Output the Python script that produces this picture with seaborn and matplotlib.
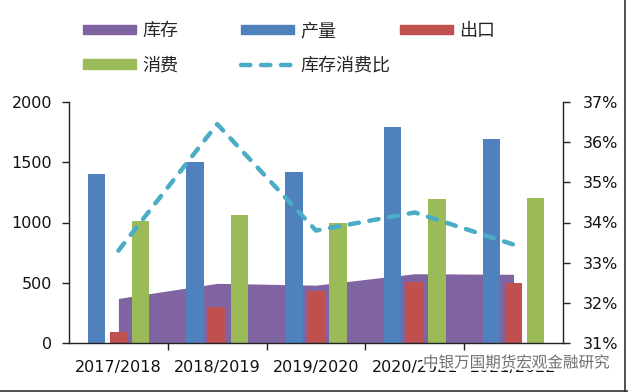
import matplotlib
matplotlib.use("Agg")
import matplotlib.pyplot as plt
import matplotlib.patheffects as pe
from matplotlib.patches import Patch
from matplotlib.lines import Line2D
import numpy as np
import pandas as pd
import seaborn as sns

# data
years = ['2017/2018', '2018/2019', '2019/2020', '2020/2021', '2021/2022']
stock = [370, 495, 480, 575, 570]
production = [1400, 1500, 1420, 1790, 1690]
export = [95, 300, 430, 510, 500]
consumption = [1010, 1060, 1000, 1195, 1200]
ratio = [33.3, 36.45, 33.8, 34.25, 33.45]
ratio_ticks = [31, 32, 33, 34, 35, 36, 37]

purple = '#8064A2'
blue = '#4F81BD'
red = '#C0504D'
green = '#9BBB59'
aqua = '#4BACC6'

sns.set_style('white')
plt.rcParams['font.family'] = ['DejaVu Sans', 'Noto Sans CJK SC']

df = pd.DataFrame({
    'year': years * 3,
    'series': ['产量'] * 5 + ['出口'] * 5 + ['消费'] * 5,
    'value': production + export + consumption,
})

fig = plt.figure(figsize=(6.28, 3.92), dpi=100)
ax = fig.add_axes([69 / 628, 1 - 343 / 392, (563 - 69) / 628, (343 - 102) / 392])

x = np.arange(len(years))
ax.fill_between(x, stock, color=purple, linewidth=0, zorder=1)
sns.barplot(data=df, x='year', y='value', hue='series', hue_order=['产量', '出口', '消费'],
            palette=[blue, red, green], width=0.67, gap=0.21, saturation=1,
            errorbar=None, legend=False, ax=ax, zorder=2, linewidth=0, edgecolor='none')

ax.set_xlim(-0.5, len(years) - 0.5)
ax.set_ylim(0, 2000)
ax.set_yticks([0, 500, 1000, 1500, 2000])
ax.set_xlabel('')
ax.set_ylabel('')
ax.set_xticks(x)
ax.set_xticklabels(years)
ax.set_xticks(x[:-1] + 0.5, minor=True)
ax.tick_params(axis='x', which='major', length=0, pad=12, labelsize=11.5, labelcolor='#111')
ax.tick_params(axis='x', which='minor', bottom=True, length=5, width=1, color='#222', direction='out')
ax.tick_params(axis='y', left=True, length=5, width=1, color='#222', direction='out',
               pad=7, labelsize=11.5, labelcolor='#111')
for s in ['left', 'bottom']:
    ax.spines[s].set_color('#222')
    ax.spines[s].set_linewidth(1)
ax.spines['top'].set_visible(False)
ax.spines['right'].set_visible(False)

ax2 = ax.twinx()
ax2.plot(x, ratio, color=aqua, lw=3.2, dashes=(2.1, 2.4), dash_capstyle='round', zorder=5)
ax2.set_ylim(31, 37)
ax2.set_yticks(ratio_ticks)
ax2.set_yticklabels([f'{t}%' for t in ratio_ticks])
ax2.tick_params(axis='y', right=True, length=5, width=1, color='#222', direction='out',
                pad=9, labelsize=11.5, labelcolor='#111')
ax2.spines['right'].set_color('#222')
ax2.spines['right'].set_linewidth(1)
for s in ['top', 'left', 'bottom']:
    ax2.spines[s].set_visible(False)
ax2.set_xlim(-0.5, len(years) - 0.5)

leg_kw = dict(loc='center left', frameon=False, prop={'family': 'Noto Sans CJK SC', 'size': 13},
              handlelength=2.93, handleheight=0.45, handletextpad=0.35, columnspacing=3.5,
              borderpad=0, borderaxespad=0)
fig.legend([Patch(color=purple), Patch(color=blue), Patch(color=red)],
           ['库存', '产量', '出口'], ncol=3, bbox_to_anchor=(83 / 628, 1 - 31 / 392), **leg_kw)
fig.legend([Patch(color=green),
            Line2D([], [], color=aqua, lw=3.2, dashes=(2.1, 2.4), dash_capstyle='round')],
           ['消费', '库存消费比'], ncol=2, bbox_to_anchor=(83 / 628, 1 - 65.5 / 392), **leg_kw)

# watermark
fig.text(423 / 628, 1 - 363 / 392, '中银万国期货宏观金融研究', family='Noto Sans CJK SC',
         fontsize=11.2, color='#707070', va='center', ha='left',
         path_effects=[pe.withStroke(linewidth=3, foreground='white')])

# outer frame lines (right and bottom)
fig.add_artist(Line2D([0, 1], [0.002, 0.002], transform=fig.transFigure, color='#333', lw=1.2))
fig.add_artist(Line2D([0.996, 0.996], [0, 1], transform=fig.transFigure, color='#333', lw=1.2))

fig.savefig('out.png', dpi=100)
